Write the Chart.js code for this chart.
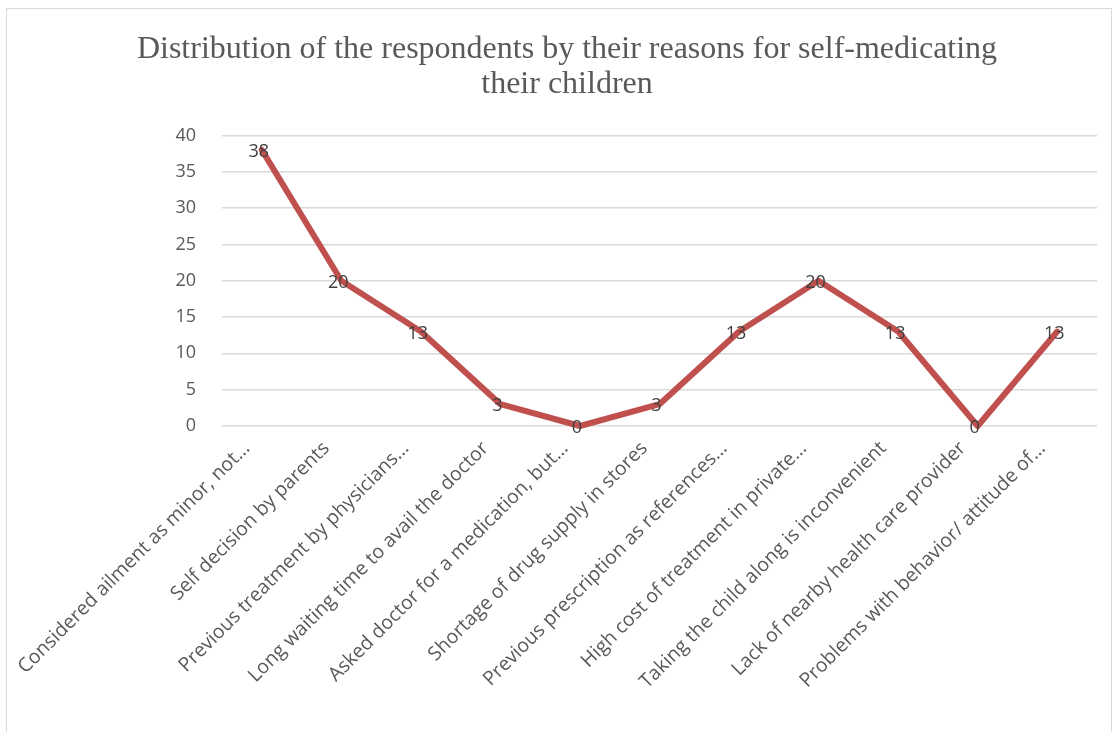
<!DOCTYPE html>
<html>
<head>
<meta charset="utf-8">
<script src="https://cdn.jsdelivr.net/npm/chart.js@4/dist/chart.umd.min.js"></script>
<style>
    html, body { margin: 0; padding: 0; background: #fff; }
    #wrap { position: relative; width: 1115px; height: 732px; }
    #frame { position: absolute; left: 6px; top: 8px; width: 1106px; height: 730px; border: 1px solid #D9D9D9; box-sizing: border-box; }
    canvas { position: absolute; left: 0; top: 0; }
</style>
</head>
<body>
<div id="wrap">
    <div id="frame"></div>
    <canvas id="reasonsChart" width="1115" height="732"></canvas>
</div>
<script>
const reasons = [
    'Considered ailment as minor, not…',
    'Self decision by parents',
    'Previous treatment by physicians…',
    'Long waiting time to avail the doctor',
    'Asked doctor for a medication, but…',
    'Shortage of drug supply in stores',
    'Previous prescription as references…',
    'High cost of treatment in private…',
    'Taking the child along is inconvenient',
    'Lack of nearby health care provider',
    'Problems with behavior/ attitude of…'
];
const respondents = [38, 20, 13, 3, 0, 3, 13, 20, 13, 0, 13];
const titleLines = ['Distribution of the respondents by their reasons for self-medicating', 'their children'];

const labelFont = "'Open Sans', 'Liberation Sans', sans-serif";

// draw the value of each point centred on the point
const pointLabels = {
    id: 'pointLabels',
    afterDatasetsDraw(chart) {
        const ctx = chart.ctx;
        const meta = chart.getDatasetMeta(0);
        ctx.save();
        ctx.font = '18px ' + labelFont;
        ctx.fillStyle = '#404040';
        ctx.textAlign = 'center';
        ctx.textBaseline = 'middle';
        meta.data.forEach((pt, i) => {
            ctx.fillText(String(respondents[i]), pt.x - 3, pt.y + 2);
        });
        ctx.restore();
    }
};

new Chart(document.getElementById('reasonsChart'), {
    type: 'line',
    data: {
        labels: reasons,
        datasets: [{
            label: 'Respondents',
            data: respondents,
            borderColor: '#C0504D',
            borderWidth: 6,
            borderJoinStyle: 'round',
            borderCapStyle: 'round',
            pointRadius: 0,
            tension: 0,
            clip: false
        }]
    },
    options: {
        responsive: false,
        animation: false,
        layout: { padding: { top: 8, right: 18, left: 37, bottom: 0 } },
        plugins: {
            legend: { display: false },
            tooltip: { enabled: false },
            title: {
                display: true,
                text: titleLines,
                color: '#595959',
                font: { family: "'Liberation Serif', 'DejaVu Serif', serif", size: 32, weight: 'normal', lineHeight: 1.1 },
                padding: { top: 24, bottom: 33 }
            }
        },
        scales: {
            x: {
                offset: true,
                grid: { display: false },
                border: { display: false },
                ticks: {
                    color: '#595959',
                    font: { family: labelFont, size: 19.5 },
                    minRotation: 45,
                    maxRotation: 45,
                    autoSkip: false,
                    padding: 3,
                    labelOffset: -15
                },
                afterFit(scale) { scale.height = 306; }
            },
            y: {
                min: 0,
                max: 40,
                grid: { color: '#D9D9D9', lineWidth: 1.5, drawTicks: false },
                border: { display: false },
                ticks: {
                    stepSize: 5,
                    color: '#595959',
                    font: { family: labelFont, size: 18 },
                    padding: 26
                },
                afterFit(scale) { scale.width = 185; }
            }
        }
    },
    plugins: [pointLabels]
});
</script>
</body>
</html>
